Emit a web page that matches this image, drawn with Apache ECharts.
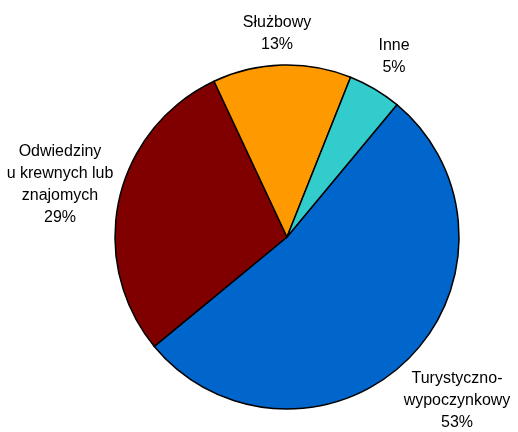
<!DOCTYPE html>
<html>
<head>
<meta charset="utf-8">
<script src="https://cdn.jsdelivr.net/npm/echarts@6/dist/echarts.min.js"></script>
<style>
  html, body { margin: 0; padding: 0; background: #fff; }
  #chart { width: 518px; height: 432px; }
</style>
</head>
<body>
<div id="chart"></div>
<script>
// dane wykresu
const categories = ["Turystyczno-\nwypoczynkowy", "Odwiedziny\nu krewnych lub\nznajomych", "Służbowy", "Inne"];
const values = [53, 29, 13, 5];
const colors = ["#0066CC", "#800000", "#FF9900", "#33CCCC"];
// środki etykiet (px)
const labelPos = [[457, 401], [60, 185], [277, 34], [394, 57]];

let chart = echarts.init(document.getElementById("chart"));

let options = {
  animation: false,
  series: [
    {
      type: "pie",
      center: [287, 237],
      radius: 172,
      startAngle: 50.3,
      clockwise: true,
      data: categories.map((c, i) => ({
        name: c,
        value: values[i],
        itemStyle: { color: colors[i] },
      })),
      itemStyle: {
        borderColor: "#000",
        borderWidth: 1.5,
      },
      label: {
        show: true,
        position: "outside",
        formatter: "{b}\n{c}%",
        color: "#000",
        fontFamily: "'Liberation Sans Narrow', 'Arial Narrow', 'Liberation Sans', sans-serif",
        fontSize: 16,
        lineHeight: 22,
        align: "center",
        overflow: "none",
        width: 200,
      },
      labelLine: { show: false },
      labelLayout: (params) => {
        let p = labelPos[params.dataIndex];
        return { x: p[0], y: p[1], align: "center", verticalAlign: "middle" };
      },
    },
  ],
};

chart.setOption(options);
</script>
</body>
</html>
